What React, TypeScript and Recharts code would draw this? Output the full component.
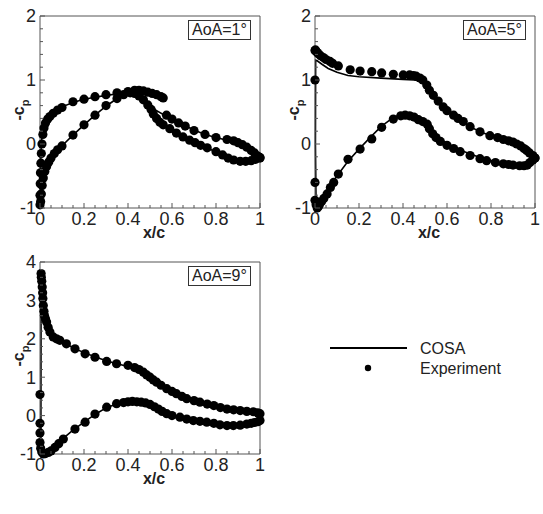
import React from 'react';
import { ComposedChart, Line, Scatter, XAxis, YAxis, ReferenceLine, Label } from 'recharts';

const FONT = '"Liberation Sans", Arial, Helvetica, sans-serif';
const AXIS_COLOR = '#555';

// ---------- AoA = 1° ----------
const a1ExpUpperX = [0.0, 0.0, 0.001, 0.002, 0.004, 0.006, 0.009, 0.013, 0.018, 0.025, 0.035, 0.045, 0.06, 0.08, 0.1, 0.15, 0.2, 0.25, 0.3, 0.35, 0.4, 0.43, 0.45, 0.47, 0.49, 0.51, 0.53, 0.55, 0.56, 0.575, 0.6, 0.63, 0.66, 0.7, 0.75, 0.8, 0.85, 0.88, 0.9, 0.92, 0.94, 0.96, 0.975, 0.99, 1.0];
const a1ExpUpperV = [-0.95, -0.8, -0.62, -0.45, -0.3, -0.15, 0.0, 0.15, 0.25, 0.33, 0.39, 0.43, 0.48, 0.53, 0.57, 0.66, 0.7, 0.74, 0.77, 0.8, 0.82, 0.84, 0.84, 0.83, 0.81, 0.79, 0.77, 0.74, 0.72, 0.45, 0.39, 0.33, 0.28, 0.21, 0.15, 0.1, 0.07, 0.05, 0.02, -0.01, -0.05, -0.1, -0.14, -0.19, -0.22];
const a1ExpLowerX = [0.003, 0.006, 0.01, 0.015, 0.022, 0.03, 0.04, 0.05, 0.065, 0.08, 0.1, 0.15, 0.2, 0.25, 0.3, 0.35, 0.38, 0.41, 0.43, 0.45, 0.47, 0.49, 0.505, 0.515, 0.53, 0.545, 0.56, 0.59, 0.62, 0.65, 0.68, 0.705, 0.73, 0.76, 0.8, 0.83, 0.855, 0.88, 0.91, 0.935, 0.96, 0.98, 1.0];
const a1ExpLowerV = [-0.9, -0.78, -0.65, -0.53, -0.43, -0.35, -0.28, -0.22, -0.15, -0.09, -0.03, 0.14, 0.3, 0.45, 0.6, 0.71, 0.77, 0.8, 0.79, 0.75, 0.69, 0.61, 0.54, 0.47, 0.4, 0.34, 0.3, 0.24, 0.17, 0.11, 0.06, 0.02, -0.02, -0.06, -0.12, -0.17, -0.22, -0.25, -0.27, -0.27, -0.26, -0.24, -0.21];
const a1CosaUpperX = [0.003, 0.002, 0.003, 0.006, 0.01, 0.02, 0.04, 0.07, 0.1, 0.15, 0.2, 0.25, 0.3, 0.35, 0.4, 0.44, 0.47, 0.5, 0.53, 0.56, 0.6, 0.65, 0.7, 0.75, 0.8, 0.85, 0.9, 0.95, 0.98, 1.0];
const a1CosaUpperV = [-1.0, -0.6, -0.25, 0.0, 0.15, 0.3, 0.43, 0.52, 0.58, 0.65, 0.7, 0.73, 0.76, 0.78, 0.8, 0.8, 0.74, 0.62, 0.52, 0.46, 0.39, 0.3, 0.22, 0.15, 0.1, 0.06, 0.01, -0.07, -0.15, -0.21];
const a1CosaLowerX = [0.003, 0.008, 0.015, 0.03, 0.05, 0.08, 0.1, 0.15, 0.2, 0.25, 0.3, 0.35, 0.4, 0.43, 0.46, 0.49, 0.52, 0.56, 0.6, 0.65, 0.7, 0.75, 0.8, 0.85, 0.9, 0.95, 1.0];
const a1CosaLowerV = [-1.0, -0.78, -0.55, -0.35, -0.22, -0.09, -0.03, 0.14, 0.3, 0.45, 0.59, 0.71, 0.79, 0.79, 0.72, 0.6, 0.45, 0.32, 0.23, 0.12, 0.03, -0.05, -0.12, -0.21, -0.26, -0.26, -0.21];

// ---------- AoA = 5° ----------
const a5ExpUpperX = [0.0, 0.0, 0.002, 0.005, 0.01, 0.015, 0.025, 0.038, 0.05, 0.068, 0.08, 0.106, 0.16, 0.205, 0.258, 0.303, 0.356, 0.401, 0.43, 0.447, 0.46, 0.477, 0.49, 0.508, 0.52, 0.538, 0.56, 0.583, 0.6, 0.63, 0.65, 0.674, 0.705, 0.75, 0.795, 0.83, 0.856, 0.88, 0.9, 0.917, 0.935, 0.95, 0.962, 0.975, 0.99, 1.0];
const a5ExpUpperV = [1.0, 1.46, 1.47, 1.45, 1.43, 1.41, 1.38, 1.35, 1.32, 1.29, 1.26, 1.22, 1.16, 1.14, 1.13, 1.11, 1.09, 1.08, 1.08, 1.07, 1.06, 1.03, 1.0, 0.92, 0.84, 0.76, 0.67, 0.58, 0.52, 0.45, 0.4, 0.35, 0.27, 0.19, 0.13, 0.1, 0.07, 0.05, 0.03, 0.0, -0.03, -0.07, -0.1, -0.14, -0.18, -0.22];
const a5ExpLowerX = [0.0, 0.0, 0.005, 0.01, 0.015, 0.02, 0.03, 0.04, 0.055, 0.07, 0.085, 0.106, 0.15, 0.205, 0.258, 0.303, 0.356, 0.39, 0.41, 0.43, 0.45, 0.47, 0.49, 0.51, 0.52, 0.535, 0.55, 0.57, 0.6, 0.63, 0.66, 0.705, 0.75, 0.78, 0.82, 0.856, 0.88, 0.9, 0.93, 0.95, 0.965, 0.977, 0.99, 1.0];
const a5ExpLowerV = [-0.6, -0.88, -0.95, -1.0, -0.98, -0.95, -0.9, -0.85, -0.78, -0.68, -0.6, -0.47, -0.24, -0.08, 0.08, 0.26, 0.39, 0.44, 0.45, 0.44, 0.42, 0.38, 0.35, 0.31, 0.24, 0.16, 0.1, 0.04, -0.02, -0.07, -0.12, -0.18, -0.23, -0.26, -0.29, -0.31, -0.32, -0.33, -0.34, -0.34, -0.33, -0.29, -0.25, -0.22];
const a5CosaUpperX = [0.005, 0.002, 0.003, 0.01, 0.03, 0.06, 0.1, 0.15, 0.2, 0.3, 0.4, 0.45, 0.47, 0.5, 0.53, 0.56, 0.6, 0.65, 0.7, 0.75, 0.8, 0.85, 0.9, 0.95, 1.0];
const a5CosaUpperV = [-1.0, 0.0, 1.31, 1.3, 1.25, 1.18, 1.12, 1.07, 1.05, 1.03, 1.01, 1.0, 0.99, 0.93, 0.78, 0.66, 0.53, 0.4, 0.28, 0.19, 0.13, 0.08, 0.01, -0.08, -0.22];
const a5CosaLowerX = [0.005, 0.01, 0.02, 0.04, 0.07, 0.1, 0.15, 0.2, 0.25, 0.3, 0.35, 0.4, 0.44, 0.48, 0.5, 0.53, 0.56, 0.6, 0.65, 0.7, 0.75, 0.8, 0.85, 0.9, 0.95, 1.0];
const a5CosaLowerV = [-1.0, -0.98, -0.92, -0.8, -0.64, -0.5, -0.27, -0.08, 0.1, 0.27, 0.4, 0.48, 0.48, 0.42, 0.36, 0.22, 0.1, 0.0, -0.08, -0.15, -0.21, -0.26, -0.3, -0.32, -0.3, -0.22];

// ---------- AoA = 9° ----------
const a9ExpUpperX = [0.005, 0.006, 0.008, 0.01, 0.012, 0.013, 0.015, 0.018, 0.02, 0.025, 0.03, 0.037, 0.045, 0.06, 0.075, 0.09, 0.12, 0.159, 0.205, 0.25, 0.303, 0.348, 0.4, 0.43, 0.45, 0.47, 0.485, 0.5, 0.515, 0.53, 0.55, 0.576, 0.6, 0.62, 0.645, 0.667, 0.7, 0.727, 0.76, 0.79, 0.82, 0.85, 0.88, 0.91, 0.94, 0.97, 0.99, 1.0];
const a9ExpUpperV = [3.7, 3.6, 3.5, 3.35, 3.2, 3.05, 2.87, 2.72, 2.61, 2.52, 2.44, 2.3, 2.18, 2.05, 2.0, 1.96, 1.87, 1.74, 1.61, 1.52, 1.41, 1.35, 1.31, 1.25, 1.2, 1.13, 1.06, 1.0, 0.93, 0.87, 0.79, 0.7, 0.63, 0.57, 0.5, 0.44, 0.39, 0.35, 0.3, 0.26, 0.21, 0.17, 0.15, 0.13, 0.11, 0.1, 0.07, 0.05];
const a9ExpLowerX = [0.0, 0.0, 0.0, 0.0, 0.003, 0.008, 0.015, 0.025, 0.038, 0.05, 0.068, 0.085, 0.106, 0.159, 0.205, 0.25, 0.303, 0.348, 0.38, 0.4, 0.42, 0.44, 0.46, 0.48, 0.5, 0.52, 0.538, 0.555, 0.576, 0.6, 0.636, 0.667, 0.697, 0.727, 0.758, 0.79, 0.818, 0.85, 0.879, 0.91, 0.94, 0.96, 0.975, 0.99, 1.0];
const a9ExpLowerV = [0.55, -0.2, -0.45, -0.7, -0.85, -0.95, -1.0, -0.99, -0.96, -0.92, -0.83, -0.73, -0.61, -0.35, -0.17, 0.04, 0.22, 0.31, 0.34, 0.36, 0.37, 0.36, 0.35, 0.33, 0.29, 0.23, 0.17, 0.11, 0.05, 0.0, -0.04, -0.09, -0.13, -0.15, -0.17, -0.2, -0.24, -0.26, -0.26, -0.25, -0.22, -0.2, -0.18, -0.16, -0.13];
const a9CosaUpperX = [0.004, 0.005, 0.008, 0.012, 0.02, 0.03, 0.045, 0.06, 0.09, 0.12, 0.16, 0.2, 0.25, 0.3, 0.35, 0.4, 0.44, 0.48, 0.52, 0.56, 0.6, 0.65, 0.7, 0.75, 0.8, 0.85, 0.9, 0.95, 1.0];
const a9CosaUpperV = [-1.0, 3.75, 3.4, 3.05, 2.65, 2.4, 2.2, 2.07, 1.95, 1.86, 1.74, 1.64, 1.53, 1.43, 1.35, 1.28, 1.2, 1.07, 0.91, 0.76, 0.62, 0.48, 0.37, 0.28, 0.21, 0.15, 0.11, 0.08, 0.05];
const a9CosaLowerX = [0.004, 0.01, 0.02, 0.03, 0.04, 0.06, 0.1, 0.15, 0.2, 0.25, 0.3, 0.35, 0.4, 0.45, 0.5, 0.55, 0.6, 0.65, 0.7, 0.75, 0.8, 0.85, 0.9, 0.95, 1.0];
const a9CosaLowerV = [-1.0, -1.0, -0.98, -0.95, -0.9, -0.8, -0.62, -0.38, -0.17, 0.03, 0.2, 0.31, 0.36, 0.35, 0.28, 0.1, -0.03, -0.1, -0.15, -0.19, -0.22, -0.25, -0.25, -0.22, -0.16];

// Tick values: major every 0.2 on x, every 1 on y; minor ticks in between
const xTicks = Array.from({ length: 21 }, (_, i) => i / 20);
const yTicksSmall = Array.from({ length: 16 }, (_, i) => -1 + i / 5);
const yTicksLarge = Array.from({ length: 26 }, (_, i) => -1 + i / 5);

type Pt = { x: number; v: number };
const toPoints = (xs: number[], vs: number[]): Pt[] => xs.map((x, i) => ({ x, v: vs[i] }));

const isMultiple = (v: number, step: number) => Math.abs(v / step - Math.round(v / step)) < 1e-6;
const fmt = (v: number) => String(Number(v.toFixed(2)));

const AXIS_W = 40;
const AXIS_H = 32;
const TICK_FONT = 18;

const XTick = (props: any) => {
  const { x, y, payload } = props;
  const v = payload.value as number;
  const major = isMultiple(v, 0.2);
  return (
    <g>
      <line x1={x} x2={x} y1={y} y2={y - (major ? 5 : 3)} stroke={AXIS_COLOR} strokeWidth={1} />
      {major && (
        <text x={x} y={y + 17} textAnchor="middle" fontFamily={FONT} fontSize={TICK_FONT} fill="#222">
          {fmt(v)}
        </text>
      )}
    </g>
  );
};

const YTick = (props: any) => {
  const { x, y, payload } = props;
  const v = payload.value as number;
  const major = isMultiple(v, 1);
  return (
    <g>
      <line x1={x} x2={x + (major ? 5 : 3)} y1={y} y2={y} stroke={AXIS_COLOR} strokeWidth={1} />
      {major && (
        <text x={x - 4} y={y} dy="0.36em" textAnchor="end" fontFamily={FONT} fontSize={TICK_FONT} fill="#222">
          {fmt(v)}
        </text>
      )}
    </g>
  );
};

const XTitle = (props: any) => {
  const vb = props.viewBox || {};
  const cx = vb.x + vb.width / 2 + 4;
  const cy = vb.y + 30;
  return (
    <text x={cx} y={cy} textAnchor="middle" fontFamily={FONT} fontSize={16} fontWeight="bold" fill="#222">
      x/c
    </text>
  );
};

const YTitle = (props: any) => {
  const vb = props.viewBox || {};
  const cx = vb.x + vb.width - 16;
  const cy = vb.y + vb.height / 2 - 2;
  return (
    <text
      x={cx}
      y={cy}
      transform={`rotate(-90, ${cx}, ${cy})`}
      textAnchor="middle"
      fontFamily={FONT}
      fontSize={16}
      fontWeight="bold"
      fill="#222"
    >
      -c
      <tspan fontSize={11} dy={5}>p</tspan>
    </text>
  );
};

const Dot = (props: any) => <circle cx={props.cx} cy={props.cy} r={4.6} fill="#000" />;

type PanelProps = {
  left: number;
  top: number;
  width: number;
  height: number;
  margin: { top: number; right: number; bottom: number; left: number };
  yMax: number;
  yTicks: number[];
  title: string;
  expUpper: Pt[];
  expLower: Pt[];
  cosaUpper: Pt[];
  cosaLower: Pt[];
};

function Panel(p: PanelProps) {
  const plotRight = p.width - p.margin.right;
  return (
    <div style={{ position: 'absolute', left: p.left, top: p.top, width: p.width, height: p.height }}>
      <ComposedChart width={p.width} height={p.height} margin={p.margin}>
        <XAxis
          dataKey="x"
          type="number"
          domain={[0, 1]}
          ticks={xTicks}
          interval={0}
          height={AXIS_H}
          tickSize={0}
          tickMargin={0}
          tickLine={false}
          tick={<XTick />}
          stroke={AXIS_COLOR}
        >
          <Label content={<XTitle />} />
        </XAxis>
        <YAxis
          dataKey="v"
          type="number"
          domain={[-1, p.yMax]}
          ticks={p.yTicks}
          interval={0}
          width={AXIS_W}
          tickSize={0}
          tickMargin={0}
          tickLine={false}
          tick={<YTick />}
          stroke={AXIS_COLOR}
        >
          <Label content={<YTitle />} />
        </YAxis>
        <ReferenceLine y={p.yMax} stroke={AXIS_COLOR} strokeWidth={1} />
        <ReferenceLine x={1} stroke={AXIS_COLOR} strokeWidth={1} />
        <Line data={p.cosaUpper} dataKey="v" type="linear" stroke="#000" strokeWidth={1.6} dot={false} isAnimationActive={false} />
        <Line data={p.cosaLower} dataKey="v" type="linear" stroke="#000" strokeWidth={1.6} dot={false} isAnimationActive={false} />
        <Scatter data={p.expUpper} dataKey="v" fill="#000" shape={<Dot />} isAnimationActive={false} />
        <Scatter data={p.expLower} dataKey="v" fill="#000" shape={<Dot />} isAnimationActive={false} />
      </ComposedChart>
      <div
        style={{
          position: 'absolute',
          left: plotRight - 72,
          top: p.margin.top + 4,
          height: 18,
          padding: '0 3px',
          border: '1px solid #333',
          background: '#fff',
          fontFamily: FONT,
          fontSize: 16,
          lineHeight: '18px',
          color: '#222',
          whiteSpace: 'nowrap',
        }}
      >
        {p.title}
      </div>
    </div>
  );
}

function LegendBox() {
  return (
    <svg width={200} height={60} style={{ position: 'absolute', left: 320, top: 330 }}>
      <line x1={10} x2={87} y1={18} y2={18} stroke="#000" strokeWidth={2} />
      <circle cx={48} cy={38} r={3.2} fill="#000" />
      <text x={100} y={24} fontFamily={FONT} fontSize={16} fill="#222">COSA</text>
      <text x={100} y={44} fontFamily={FONT} fontSize={16} fill="#222">Experiment</text>
    </svg>
  );
}

export default function App() {
  return (
    <div style={{ position: 'absolute', left: 0, top: 0, width: 543, height: 514, background: '#fff', overflow: 'hidden' }}>
      <Panel
        left={0}
        top={0}
        width={270}
        height={240}
        margin={{ top: 16, right: 10, bottom: 0, left: 0 }}
        yMax={2}
        yTicks={yTicksSmall}
        title="AoA=1°"
        expUpper={toPoints(a1ExpUpperX, a1ExpUpperV)}
        expLower={toPoints(a1ExpLowerX, a1ExpLowerV)}
        cosaUpper={toPoints(a1CosaUpperX, a1CosaUpperV)}
        cosaLower={toPoints(a1CosaLowerX, a1CosaLowerV)}
      />
      <Panel
        left={275}
        top={0}
        width={268}
        height={240}
        margin={{ top: 16, right: 8, bottom: 0, left: 0 }}
        yMax={2}
        yTicks={yTicksSmall}
        title="AoA=5°"
        expUpper={toPoints(a5ExpUpperX, a5ExpUpperV)}
        expLower={toPoints(a5ExpLowerX, a5ExpLowerV)}
        cosaUpper={toPoints(a5CosaUpperX, a5CosaUpperV)}
        cosaLower={toPoints(a5CosaLowerX, a5CosaLowerV)}
      />
      <Panel
        left={0}
        top={246}
        width={270}
        height={264}
        margin={{ top: 16, right: 10, bottom: 24, left: 0 }}
        yMax={4}
        yTicks={yTicksLarge}
        title="AoA=9°"
        expUpper={toPoints(a9ExpUpperX, a9ExpUpperV)}
        expLower={toPoints(a9ExpLowerX, a9ExpLowerV)}
        cosaUpper={toPoints(a9CosaUpperX, a9CosaUpperV)}
        cosaLower={toPoints(a9CosaLowerX, a9CosaLowerV)}
      />
      <LegendBox />
    </div>
  );
}
